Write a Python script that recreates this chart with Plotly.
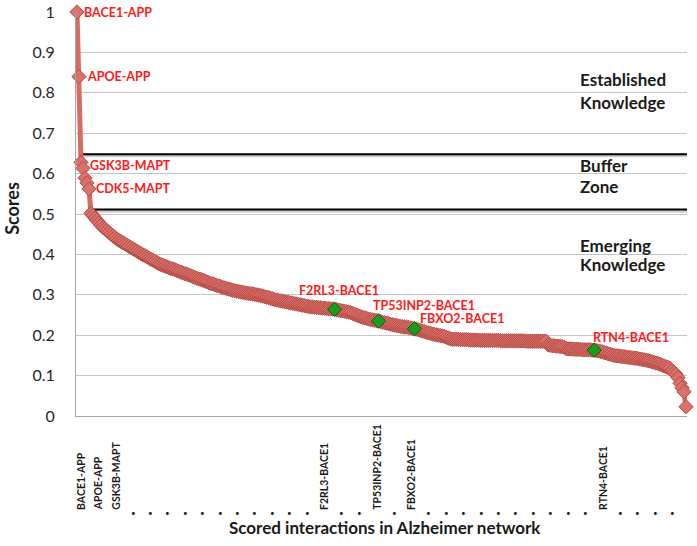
import plotly.graph_objects as go

# ---- data: scores of the ranked interactions ----
scores = [
    1.00, 0.84, 0.628, 0.613, 0.589, 0.577, 0.562, 0.502, 0.496, 0.490,
    0.484, 0.478, 0.472, 0.467, 0.463, 0.459, 0.455, 0.450, 0.446, 0.442,
    0.438, 0.435, 0.432, 0.429, 0.426, 0.423, 0.420, 0.417, 0.414, 0.411,
    0.408, 0.405, 0.402, 0.399, 0.397, 0.394, 0.391, 0.388, 0.386, 0.383,
    0.380, 0.377, 0.375, 0.373, 0.371, 0.369, 0.367, 0.365, 0.364, 0.362,
    0.360, 0.358, 0.356, 0.354, 0.352, 0.351, 0.349, 0.347, 0.345, 0.343,
    0.341, 0.339, 0.338, 0.336, 0.334, 0.332, 0.330, 0.328, 0.327, 0.325,
    0.323, 0.322, 0.320, 0.318, 0.317, 0.315, 0.314, 0.313, 0.311, 0.310,
    0.309, 0.308, 0.307, 0.306, 0.305, 0.304, 0.303, 0.303, 0.302, 0.301,
    0.300, 0.299, 0.298, 0.297, 0.295, 0.294, 0.293, 0.291, 0.290, 0.288,
    0.287, 0.286, 0.285, 0.284, 0.283, 0.282, 0.281, 0.280, 0.279, 0.278,
    0.277, 0.276, 0.275, 0.274, 0.273, 0.272, 0.271, 0.270, 0.270, 0.269,
    0.269, 0.268, 0.268, 0.267, 0.267, 0.266, 0.266, 0.265, 0.265, 0.264,
    0.263, 0.262, 0.261, 0.260, 0.259, 0.258, 0.257, 0.256, 0.254, 0.252,
    0.250, 0.248, 0.246, 0.244, 0.243, 0.242, 0.240, 0.239, 0.238, 0.237,
    0.236, 0.235, 0.234, 0.232, 0.231, 0.230, 0.229, 0.227, 0.226, 0.225,
    0.224, 0.223, 0.222, 0.221, 0.220, 0.220, 0.219, 0.218, 0.217, 0.216,
    0.215, 0.213, 0.212, 0.210, 0.209, 0.207, 0.206, 0.205, 0.203, 0.202,
    0.201, 0.200, 0.199, 0.198, 0.197, 0.195, 0.193, 0.191, 0.190, 0.190,
    0.190, 0.190, 0.189, 0.189, 0.189, 0.189, 0.189, 0.188, 0.188, 0.188,
    0.188, 0.188, 0.187, 0.187, 0.187, 0.187, 0.187, 0.187, 0.187, 0.187,
    0.187, 0.187, 0.187, 0.186, 0.186, 0.186, 0.186, 0.186, 0.186, 0.186,
    0.186, 0.186, 0.186, 0.186, 0.186, 0.185, 0.185, 0.185, 0.185, 0.185,
    0.185, 0.185, 0.185, 0.185, 0.185, 0.185, 0.176, 0.175, 0.174, 0.174,
    0.173, 0.173, 0.172, 0.172, 0.170, 0.167, 0.166, 0.166, 0.166, 0.165,
    0.165, 0.165, 0.165, 0.164, 0.164, 0.164, 0.164, 0.164, 0.163, 0.163,
    0.162, 0.161, 0.160, 0.159, 0.157, 0.156, 0.154, 0.153, 0.151, 0.150,
    0.149, 0.149, 0.148, 0.147, 0.147, 0.146, 0.145, 0.145, 0.144, 0.143,
    0.143, 0.142, 0.141, 0.140, 0.139, 0.138, 0.137, 0.136, 0.134, 0.133,
    0.131, 0.130, 0.128, 0.126, 0.124, 0.122, 0.120, 0.118, 0.113, 0.108,
    0.103, 0.095, 0.081, 0.070, 0.060, 0.023,
]
ranks = list(range(len(scores)))

# named interactions (rank index, name)
top_names = ["BACE1-APP", "APOE-APP", "GSK3B-MAPT", "CDK5-MAPT"]
top_idx = [0, 1, 2, 6]
green_names = ["F2RL3-BACE1", "TP53INP2-BACE1", "FBXO2-BACE1", "RTN4-BACE1"]
green_idx = [129, 151, 169, 259]

# x-axis label slots
slot_labels = (["BACE1-APP", "APOE-APP", "GSK3B-MAPT"] + ["."] * 11 +
               ["F2RL3-BACE1", ".", ".", "TP53INP2-BACE1", ".", "FBXO2-BACE1"] +
               ["."] * 10 + ["RTN4-BACE1"] + ["."] * 5)

# zone thresholds
upper_threshold = 0.648
lower_threshold = 0.511

zone_lines = ["Established", "Knowledge", "Buffer", "Zone", "Emerging", "Knowledge"]
zone_y = [0.834, 0.777, 0.619, 0.567, 0.423, 0.374]

RED = "#ff1a1a"
LINE_C = "#d86c64"
FILL_C = "#d9726b"
EDGE_C = "#b54a44"
FONT = "Lato"
DARK = "#1a1a1a"

fig = go.Figure()

fig.add_trace(go.Scatter(
    x=ranks, y=scores, mode="lines+markers",
    line=dict(color=LINE_C, width=5),
    marker=dict(symbol="diamond", size=11, color=FILL_C,
                line=dict(color=EDGE_C, width=1)),
    cliponaxis=False, showlegend=False, hoverinfo="x+y",
))

fig.add_trace(go.Scatter(
    x=green_idx, y=[scores[i] for i in green_idx], mode="markers",
    marker=dict(symbol="diamond", size=11, color="#1f9a1f",
                line=dict(color="#0b5e0b", width=1)),
    cliponaxis=False, showlegend=False,
))

annotations = []
# red labels near points
top_shift = [(6, 0), (7, 0), (8, -3), (6, 0)]
for name, i, (dx, dy) in zip(top_names, top_idx, top_shift):
    annotations.append(dict(x=i, y=scores[i], xref="x", yref="y", text=name,
                            showarrow=False, xanchor="left", yanchor="middle",
                            xshift=dx, yshift=dy, borderpad=0,
                            font=dict(family=FONT, size=12.5, color=RED, weight="bold")))
green_shift = [("center", 4, 19), ("left", -7, 16), ("left", 5, 10), ("left", -2, 13)]
for name, i, (anc, dx, dy) in zip(green_names, green_idx, green_shift):
    annotations.append(dict(x=i, y=scores[i], xref="x", yref="y", text=name,
                            showarrow=False, xanchor=anc, yanchor="middle",
                            xshift=dx, yshift=dy, borderpad=0,
                            font=dict(family=FONT, size=12.5, color=RED, weight="bold")))

# zone texts
for t, yv in zip(zone_lines, zone_y):
    annotations.append(dict(x=0.8216, y=yv, xref="paper", yref="y", text=t,
                            showarrow=False, xanchor="left", yanchor="middle",
                            font=dict(family=FONT, size=17, color=DARK, weight="bold")))

# x-axis slot labels (rotated, bottom aligned) and dots
slot_start = 2.0
slot_step = 8.714
for k, lab in enumerate(slot_labels):
    xpos = slot_start + k * slot_step
    if lab == ".":
        annotations.append(dict(x=xpos, y=-0.240, xref="x", yref="paper",
                                text="•", showarrow=False, xanchor="center",
                                yanchor="middle", borderpad=0,
                                font=dict(family=FONT, size=8, color=DARK)))
    else:
        annotations.append(dict(x=xpos, y=-0.235, xref="x", yref="paper",
                                text=lab, showarrow=False, textangle=-90,
                                xanchor="center", yanchor="bottom", borderpad=0,
                                font=dict(family=FONT, size=10.5, color=DARK,
                                          weight="bold")))

# axis titles
annotations.append(dict(x=-0.105, y=0.515, xref="paper", yref="paper", text="Scores",
                        showarrow=False, textangle=-90, xanchor="center", yanchor="middle",
                        font=dict(family=FONT, size=18, color=DARK, weight="bold")))
annotations.append(dict(x=0.506, y=-0.275, xref="paper", yref="paper",
                        text="Scored interactions in Alzheimer network",
                        showarrow=False, xanchor="center", yanchor="middle",
                        font=dict(family=FONT, size=17, color=DARK, weight="bold")))

shapes = []
for thr, x0 in [(upper_threshold, 1.5), (lower_threshold, 7.5)]:
    shapes.append(dict(type="line", xref="x", yref="y", x0=x0, x1=305.5,
                       y0=thr - 0.004, y1=thr - 0.004,
                       line=dict(color="rgba(110,110,110,0.35)", width=3), layer="below"))
    shapes.append(dict(type="line", xref="x", yref="y", x0=x0, x1=305.5,
                       y0=thr, y1=thr, line=dict(color="#000000", width=2), layer="below"))

fig.update_layout(
    width=697, height=546,
    margin=dict(l=76, r=10, t=12, b=130),
    paper_bgcolor="white", plot_bgcolor="white",
    font=dict(family=FONT),
    xaxis=dict(range=[-0.5, 305.5], showticklabels=False, showgrid=False,
               zeroline=False, showline=True, linecolor="#a6a6a6", linewidth=1,
               ticks="", automargin=False),
    yaxis=dict(range=[0, 1.0], dtick=0.1, tick0=0, showgrid=True,
               gridcolor="#c6c6c6", gridwidth=1, zeroline=False,
               showline=True, linecolor="#a6a6a6", linewidth=1,
               ticks="", ticklabelstandoff=17, automargin=False,
               tickfont=dict(family=FONT, size=16, color="#262626")),
    annotations=annotations, shapes=shapes,
)

fig.write_html("out.html", config={"displayModeBar": False},
               post_script="document.body.style.margin='0';document.body.style.overflow='hidden';")
